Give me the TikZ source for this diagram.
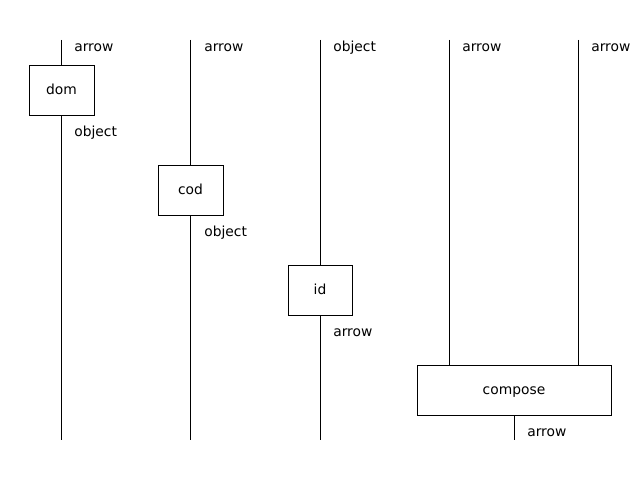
\documentclass[tikz,border=0pt]{standalone}
\usepackage{fontspec}
\setmainfont{DejaVu Sans}
\usepackage{tikz}

\begin{document}
\begin{tikzpicture}[x=0.01in, y=-0.01in, font=\fontsize{10}{12}\selectfont]
			\useasboundingbox (0,0) rectangle (640,480);
			\tikzset{
				box/.style={draw, rectangle, inner sep=0pt, minimum height=0.5in, text height=8pt, text depth=2pt},
				wirelabel/.style={anchor=west, inner sep=0pt, text height=8pt, text depth=2pt},
			}
			\node[box, minimum width=0.65in] (dom) at (61.5,90) {dom};
			\node[box, minimum width=0.65in] (cod) at (190.5,190) {cod};
			\node[box, minimum width=0.64in] (id) at (320,290) {id};
			\node[box, minimum width=1.94in] (compose) at (514,390) {compose};
			
			\coordinate (t1) at (61.5,40);
			\coordinate (t2) at (190.5,40);
			\coordinate (t3) at (320,40);
			\coordinate (t4) at (449,40);
			\coordinate (t5) at (578,40);
			\coordinate (b1) at (61.5,440);
			\coordinate (b2) at (190.5,440);
			\coordinate (b3) at (320,440);
			\coordinate (b4) at (514,440);
			
			\draw (t1) to (dom.north);
			\draw (dom.south) to (b1);
			\draw (t2) to (cod.north);
			\draw (cod.south) to (b2);
			\draw (t3) to (id.north);
			\draw (id.south) to (b3);
			\draw (t4) to (t4 |- compose.north);
			\draw (t5) to (t5 |- compose.north);
			\draw (compose.south) to (b4);
			
			\node[wirelabel] (l1) at (74,47) {arrow};
			\node[wirelabel] (l2) at (204,47) {arrow};
			\node[wirelabel] (l3) at (333,47) {object};
			\node[wirelabel] (l4) at (462,47) {arrow};
			\node[wirelabel] (l5) at (591,47) {arrow};
			\node[wirelabel] (l6) at (74,132) {object};
			\node[wirelabel] (l7) at (204,232) {object};
			\node[wirelabel] (l8) at (333,332) {arrow};
			\node[wirelabel] (l9) at (527,432) {arrow};
		\end{tikzpicture}
\end{document}
